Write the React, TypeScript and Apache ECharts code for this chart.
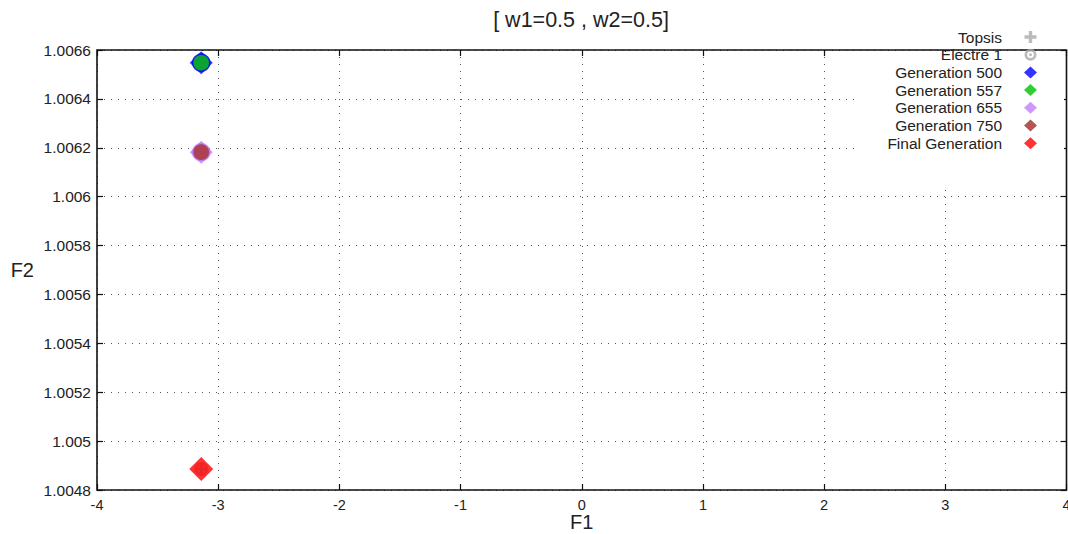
import React, { useEffect, useRef } from "react";
import * as echarts from "echarts";

// Objective-space points (F1, F2) for each generation of the run
const seriesNames = [
  "Topsis",
  "Electre 1",
  "Generation 500",
  "Generation 557",
  "Generation 655",
  "Generation 750",
  "Final Generation",
];
const topsisPoints = [[-3.14, 1.004886]];
const electrePoints = [[-3.14, 1.004886]];
const gen500Points = [[-3.14, 1.006548]];
const gen557Points = [[-3.14, 1.006548]];
const gen655Points = [[-3.14, 1.006182]];
const gen750Points = [[-3.14, 1.006182]];
const finalPoints = [[-3.14, 1.004886]];

const xTicks = { min: -4, max: 4, step: 1 };
const yTicks = { min: 1.0048, max: 1.0066, step: 0.0002 };

const PLUS =
  "path://M-2,-7 L2,-7 L2,-2 L7,-2 L7,2 L2,2 L2,7 L-2,7 L-2,2 L-7,2 L-7,-2 L-2,-2 Z";
const RING =
  "path://M0,-10 A10,10 0 1,1 0,10 A10,10 0 1,1 0,-10 Z M0,-5.5 A5.5,5.5 0 1,0 0,5.5 A5.5,5.5 0 1,0 0,-5.5 Z M0,-2.5 A2.5,2.5 0 1,1 0,2.5 A2.5,2.5 0 1,1 0,-2.5 Z";

const FONT = "'Liberation Sans', Arial, sans-serif";

export default function App() {
  const ref = useRef<HTMLDivElement>(null);

  useEffect(() => {
    document.body.style.margin = "0";
    const chart = echarts.init(ref.current!, null, { renderer: "svg" });

    const dotted = { color: "#555", width: 1, type: [1, 6] as any };
    const fmtY = (v: number) => String(parseFloat(v.toFixed(4)));
    const tick = { show: true, inside: true, length: 6, lineStyle: { color: "#111", width: 1.2 } };
    const noLine = { show: false, onZero: false };
    const plainIcon = { borderWidth: 0 };

    chart.setOption({
      animation: false,
      backgroundColor: "#fff",
      textStyle: { fontFamily: FONT },
      title: {
        text: "[ w1=0.5 , w2=0.5]",
        left: 576,
        top: 4,
        textAlign: "center",
        textStyle: { fontFamily: FONT, fontSize: 21.5, fontWeight: "normal", color: "#222" },
      },
      grid: {
        left: 97,
        right: 1.5,
        top: 50,
        bottom: 44,
        outerBoundsMode: "none",
        containLabel: false,
        show: true,
        borderColor: "#111",
        borderWidth: 1.6,
        backgroundColor: "transparent",
        z: 3,
      },
      // white panel behind the key, hiding the grid lines there
      graphic: [
        {
          type: "rect",
          left: 860,
          top: 52,
          shape: { width: 204, height: 136 },
          style: { fill: "#fff" },
          z: 1,
          silent: true,
        },
      ],
      legend: {
        orient: "vertical",
        align: "right",
        right: 27,
        top: 27,
        itemGap: 1.7,
        itemWidth: 13,
        itemHeight: 12,
        padding: [2, 4, 4, 4],
        textStyle: {
          fontFamily: FONT,
          fontSize: 15.5,
          color: "#222",
          padding: [0, 17, 0, 0],
        },
        data: [
          { name: seriesNames[0], icon: PLUS, itemStyle: { color: "#aaa", borderWidth: 0 } },
          { name: seriesNames[1], icon: RING, itemStyle: { color: "#aaa", borderWidth: 0 } },
          { name: seriesNames[2], icon: "diamond", itemStyle: plainIcon },
          { name: seriesNames[3], icon: "diamond", itemStyle: plainIcon },
          { name: seriesNames[4], icon: "diamond", itemStyle: plainIcon },
          { name: seriesNames[5], icon: "diamond", itemStyle: plainIcon },
          { name: seriesNames[6], icon: "diamond", itemStyle: plainIcon },
        ],
      },
      xAxis: [
        {
          type: "value",
          min: xTicks.min,
          max: xTicks.max,
          interval: xTicks.step,
          name: "F1",
          nameLocation: "middle",
          nameGap: 22,
          nameMoveOverlap: false,
          nameTextStyle: { fontFamily: FONT, fontSize: 20, color: "#222" },
          axisLine: noLine,
          axisTick: tick,
          axisLabel: { fontFamily: FONT, fontSize: 14.5, color: "#222", margin: 7 },
          splitLine: { show: true, lineStyle: dotted },
        },
        {
          type: "value",
          position: "top",
          min: xTicks.min,
          max: xTicks.max,
          interval: xTicks.step,
          axisLine: noLine,
          axisTick: tick,
          axisLabel: { show: false },
          splitLine: { show: false },
        },
      ],
      yAxis: [
        {
          type: "value",
          min: yTicks.min,
          max: yTicks.max,
          interval: yTicks.step,
          name: "F2",
          nameLocation: "middle",
          nameRotate: 0,
          nameGap: 63,
          nameMoveOverlap: false,
          nameTextStyle: { fontFamily: FONT, fontSize: 20, color: "#222" },
          axisLine: noLine,
          axisTick: tick,
          axisLabel: { fontFamily: FONT, fontSize: 15.5, color: "#222", margin: 6, formatter: fmtY },
          splitLine: { show: true, lineStyle: dotted },
        },
        {
          type: "value",
          position: "right",
          min: yTicks.min,
          max: yTicks.max,
          interval: yTicks.step,
          axisLine: noLine,
          axisTick: tick,
          axisLabel: { show: false },
          splitLine: { show: false },
        },
      ],
      series: [
        {
          name: seriesNames[0],
          type: "scatter",
          data: topsisPoints,
          symbol: PLUS,
          symbolSize: 12,
          itemStyle: { color: "#aaa" },
          z: 4,
        },
        {
          name: seriesNames[1],
          type: "scatter",
          data: electrePoints,
          symbol: RING,
          symbolSize: 14,
          itemStyle: { color: "#aaa" },
          z: 5,
        },
        {
          name: seriesNames[2],
          type: "scatter",
          data: gen500Points,
          symbol: "diamond",
          symbolSize: 23,
          itemStyle: { color: "#0000ff" },
          z: 6,
        },
        {
          name: seriesNames[3],
          type: "scatter",
          data: gen557Points,
          symbol: "circle",
          symbolSize: 17,
          itemStyle: { color: "#00c000", borderColor: "#0000ff", borderWidth: 1.5 },
          z: 7,
        },
        {
          name: seriesNames[4],
          type: "scatter",
          data: gen655Points,
          symbol: "diamond",
          symbolSize: 23,
          itemStyle: { color: "#c080ff" },
          z: 8,
        },
        {
          name: seriesNames[5],
          type: "scatter",
          data: gen750Points,
          symbol: "circle",
          symbolSize: 17,
          itemStyle: { color: "#a52a2a", borderColor: "#c080ff", borderWidth: 1.5 },
          z: 9,
        },
        {
          name: seriesNames[6],
          type: "scatter",
          data: finalPoints,
          symbol: "diamond",
          symbolSize: 24,
          itemStyle: { color: "#ff0000" },
          z: 10,
        },
      ],
    });

    return () => chart.dispose();
  }, []);

  return <div ref={ref} style={{ width: 1068, height: 534 }} />;
}
